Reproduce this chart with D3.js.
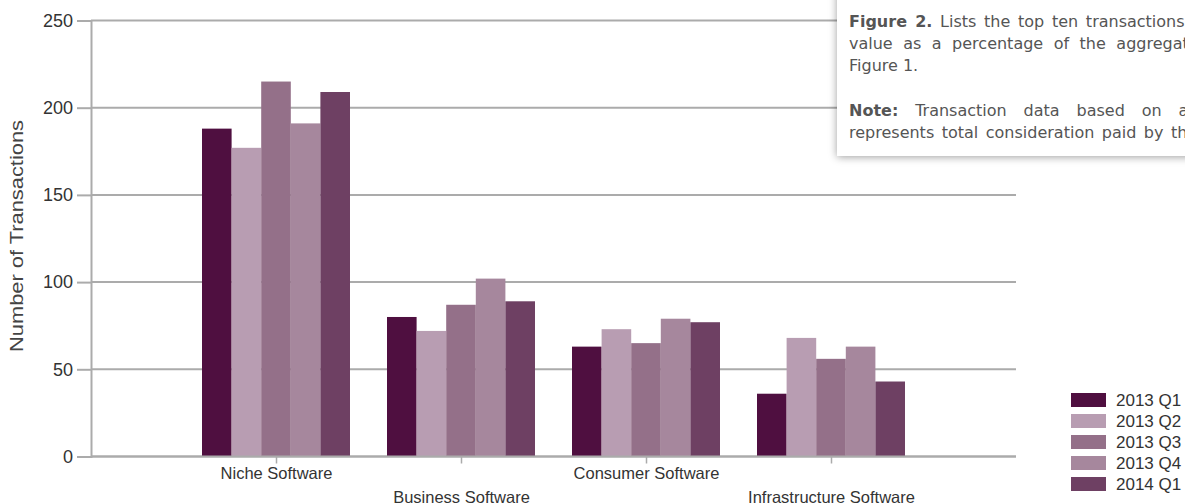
<!DOCTYPE html>
<html>
<head>
<meta charset="utf-8">
<script src="https://cdn.jsdelivr.net/npm/d3@7"></script>
<style>
  html, body { margin: 0; padding: 0; background: #fff; overflow: hidden; }
  body { width: 1185px; height: 503px; position: relative; }
  svg { position: absolute; left: 0; top: 0; }
  #note {
    position: absolute; left: 837px; top: -20px; width: 520px; height: 176px;
    background: #fff; box-shadow: 0 1px 8px rgba(0,0,0,0.38);
    font-family: "DejaVu Sans", Verdana, sans-serif; font-size: 16px; color: #555;
  }
  #note .ln { position: absolute; left: 12px; white-space: nowrap; line-height: 18px; }
  #note b { font-weight: bold; }
</style>
</head>
<body>
<svg id="chart" width="1185" height="503"></svg>
<div id="note"></div>
<script>
const categories = ["Niche Software", "Business Software", "Consumer Software", "Infrastructure Software"];
const seriesNames = ["2013 Q1", "2013 Q2", "2013 Q3", "2013 Q4", "2014 Q1"];
const q1_2013 = [188, 80, 63, 36];
const q2_2013 = [177, 72, 73, 68];
const q3_2013 = [215, 87, 65, 56];
const q4_2013 = [191, 102, 79, 63];
const q1_2014 = [209, 89, 77, 43];
const yTicks = [0, 50, 100, 150, 200, 250];
const colors = ["#4f0f40", "#b89db2", "#947089", "#a6879d", "#6e4063"];
const noteLines = [
  {bold: "Figure 2.", text: " Lists the top ten transactions by deal value", ws: 2.6},
  {bold: "", text: "value as a percentage of the aggregate deal value", ws: 5.4},
  {bold: "", text: "Figure 1.", ws: 0},
  {bold: "", text: "", ws: 0},
  {bold: "Note:", text: " Transaction data based on announced deals", ws: 11.8},
  {bold: "", text: "represents total consideration paid by the acquirer", ws: 2.4}
];

const seriesValues = [q1_2013, q2_2013, q3_2013, q4_2013, q1_2014];
const svg = d3.select("#chart");
const mLeft = 91, mRight = 1016, mTop = 20.5, mBottom = 456.5;
const gray = "#ababab";

const x = d3.scalePoint().domain(categories).range([mLeft, mRight]).padding(1);
const groupW = x.step() * 0.8;
const xs = d3.scaleBand().domain(seriesNames).range([-groupW / 2, groupW / 2]).padding(0);
const y = d3.scaleLinear().domain([0, 250]).range([mBottom, mTop]);

// gridlines
svg.append("g").selectAll("line").data(yTicks).join("line")
  .attr("x1", mLeft).attr("x2", mRight)
  .attr("y1", d => y(d)).attr("y2", d => y(d))
  .attr("stroke", gray).attr("stroke-width", 2);

// y axis
const yAxis = svg.append("g").attr("transform", `translate(${mLeft},0)`)
  .call(d3.axisLeft(y).tickValues(yTicks).tickSize(14).tickPadding(4));
yAxis.select(".domain").attr("stroke", gray).attr("stroke-width", 2);
yAxis.selectAll(".tick line").attr("stroke", gray).attr("stroke-width", 2);
yAxis.selectAll(".tick text").attr("fill", "#333")
  .style("font-family", "'Liberation Sans', Arial, sans-serif").style("font-size", "18px");

// bars
const groups = svg.append("g").selectAll("g").data(categories).join("g")
  .attr("transform", d => `translate(${x(d)},0)`);
groups.selectAll("rect")
  .data((c, i) => seriesNames.map((s, j) => ({s, v: seriesValues[j][i], j})))
  .join("rect")
  .attr("x", d => xs(d.s)).attr("width", xs.bandwidth())
  .attr("y", d => y(d.v)).attr("height", d => y(0) - y(d.v))
  .attr("fill", d => colors[d.j]);

// x axis
const xAxis = svg.append("g").attr("transform", `translate(0,${mBottom})`)
  .call(d3.axisBottom(x).tickSize(7).tickSizeOuter(0));
xAxis.select(".domain").remove();
xAxis.selectAll(".tick line").attr("stroke", gray).attr("stroke-width", 1.5);
xAxis.selectAll(".tick text")
  .attr("y", (d, i) => i % 2 === 0 ? 22.5 : 46).attr("dy", 0)
  .attr("fill", "#333")
  .style("font-family", "'Liberation Sans', Arial, sans-serif").style("font-size", "16.5px");
svg.append("line").attr("x1", mLeft).attr("x2", mRight).attr("y1", mBottom).attr("y2", mBottom)
  .attr("stroke", gray).attr("stroke-width", 2);

// y title
svg.append("text")
  .attr("transform", `translate(23,236) rotate(-90)`)
  .attr("text-anchor", "middle")
  .attr("fill", "#444")
  .attr("textLength", 232).attr("lengthAdjust", "spacingAndGlyphs")
  .style("font-family", "'Liberation Sans', Arial, sans-serif").style("font-size", "19px")
  .text("Number of Transactions");

// legend
const leg = svg.append("g").selectAll("g").data(seriesNames).join("g")
  .attr("transform", (d, i) => `translate(1071,${393 + i * 21})`);
leg.append("rect").attr("width", 35).attr("height", 14).attr("fill", (d, i) => colors[i]);
leg.append("text").attr("x", 45).attr("y", 7).attr("dy", "0.36em")
  .attr("fill", "#333")
  .style("font-family", "'Liberation Sans', Arial, sans-serif").style("font-size", "17px")
  .text(d => d);

// note box
const note = d3.select("#note");
noteLines.forEach((l, i) => {
  const div = note.append("div").attr("class", "ln")
    .style("top", (33 + i * 22.2) + "px")
    .style("word-spacing", l.ws + "px");
  if (l.bold) div.append("b").text(l.bold);
  div.append("span").text(l.text);
});
</script>
</body>
</html>
